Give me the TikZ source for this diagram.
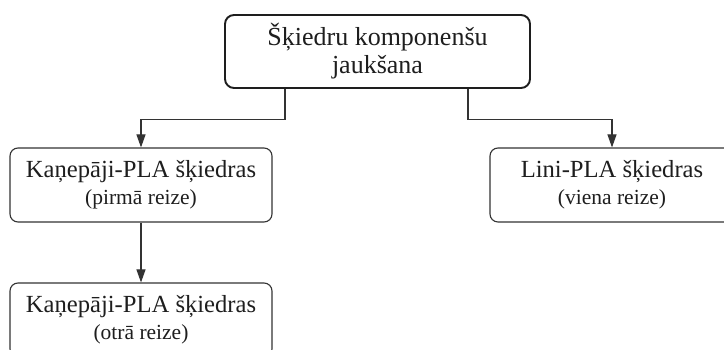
\documentclass[tikz,border=0pt]{standalone}
\usepackage{fontspec}
\setmainfont{Liberation Serif}
\usetikzlibrary{arrows.meta}
\definecolor{ink}{HTML}{1E1E1E}
\definecolor{edge}{HTML}{333333}
\tikzset{
  x=1pt, y=1pt,
  box/.style={draw=edge, line width=1.1pt, rounded corners=8pt, fill=white,
    align=center, text=ink, inner sep=0pt,
    font=\fontsize{24.6}{27}\selectfont},
  topbox/.style={box, draw=ink, line width=1.9pt, rounded corners=9pt,
    font=\fontsize{26}{28}\selectfont},
  link/.style={draw=edge, line width=1.1pt,
    -{Triangle[length=13pt,width=9pt]}},
}
\newcommand{\subline}[1]{{\fontsize{21.5}{24}\selectfont #1}}
\begin{document}
\begin{tikzpicture}
\useasboundingbox (0,0) rectangle (724,350);
\fill[white] (0,0) rectangle (724,350);

% top-level process
\node[topbox, minimum width=305pt, minimum height=73pt] (mix) at (377.5,298.5)
  {Šķiedru komponenšu\\jaukšana};

% blends
\node[box, minimum width=262pt, minimum height=74pt] (hemp1) at (141,165)
  {Kaņepāji-PLA šķiedras\\\subline{(pirmā reize)}};
\node[box, minimum width=244pt, minimum height=74pt] (flax) at (612,165)
  {Lini-PLA šķiedras\\\subline{(viena reize)}};
\node[box, minimum width=262pt, minimum height=74pt] (hemp2) at (141,30)
  {Kaņepāji-PLA šķiedras\\\subline{(otrā reize)}};

% branch points under the top box
\coordinate (mixL) at ([xshift=-92.5pt]mix.south);
\coordinate (mixR) at ([xshift=90.5pt]mix.south);

\draw[link] (mixL) -- ++(0,-31) -| (hemp1.north);
\draw[link] (mixR) -- ++(0,-31) -| (flax.north);
\draw[link] (hemp1.south) -- (hemp2.north);
\end{tikzpicture}
\end{document}
